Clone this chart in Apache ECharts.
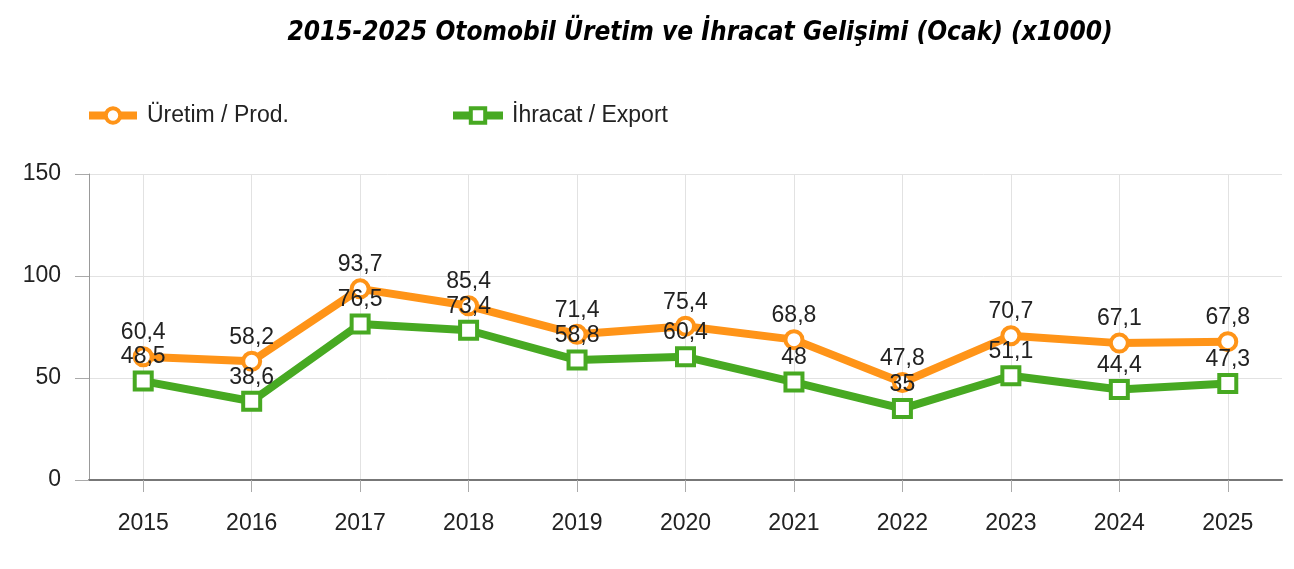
<!DOCTYPE html>
<html>
<head>
<meta charset="utf-8">
<style>html,body{margin:0;padding:0;background:#fff;}#c{width:1294px;height:569px;}</style>
<script src="https://cdn.jsdelivr.net/npm/echarts@6/dist/echarts.min.js"></script>
</head>
<body>
<div id="c"></div>
<script>
const years = ['2015','2016','2017','2018','2019','2020','2021','2022','2023','2024','2025'];
const uretim = [60.4, 58.2, 93.7, 85.4, 71.4, 75.4, 68.8, 47.8, 70.7, 67.1, 67.8];
const ihracat = [48.5, 38.6, 76.5, 73.4, 58.8, 60.4, 48, 35, 51.1, 44.4, 47.3];
const yTicks = [0, 50, 100, 150];
const titleText = '2015-2025 Otomobil Üretim ve İhracat Gelişimi (Ocak) (x1000)';
const nameU = 'Üretim / Prod.';
const nameI = 'İhracat / Export';

const ORANGE = '#FF9418';
const GREEN = '#47A922';
const FONT = '"Liberation Sans", Arial, sans-serif';
const FS = 23;
const fmt = p => String(p.value).replace('.', ',');

const chart = echarts.init(document.getElementById('c'), null, {renderer: 'canvas'});
chart.setOption({
  animation: false,
  backgroundColor: '#fff',
  title: {
    text: titleText,
    left: 695, top: 15,
    textAlign: 'center',
    textStyle: {fontFamily: '"Liberation Sans Narrow", "DejaVu Sans Condensed", sans-serif', fontStyle: 'italic', fontWeight: 'bold', fontSize: 26, color: '#000'}
  },
  legend: [
    {data: [nameU], left: 80, top: 99, itemWidth: 48, itemHeight: 18, itemGap: 10,
     lineStyle: {width: 8}, itemStyle: {borderWidth: 4},
     textStyle: {fontFamily: FONT, fontSize: FS, color: '#222', padding: [0, 0, 0, 5]}},
    {data: [nameI], left: 444, top: 99, itemWidth: 50, itemHeight: 18, itemGap: 10,
     lineStyle: {width: 8}, itemStyle: {borderWidth: 4},
     textStyle: {fontFamily: FONT, fontSize: FS, color: '#222', padding: [0, 0, 0, 4]}}
  ],
  grid: {left: 89, right: 12, top: 174, bottom: 89, containLabel: false},
  xAxis: {
    type: 'category',
    data: years,
    boundaryGap: true,
    axisLine: {show: true, lineStyle: {color: '#777', width: 2}},
    axisTick: {show: true, alignWithLabel: true, length: 12, lineStyle: {color: '#aaa'}},
    splitLine: {show: true, alignWithLabel: true, lineStyle: {color: '#e2e2e2', width: 1}},
    axisLabel: {margin: 32, fontFamily: FONT, fontSize: FS, color: '#222'}
  },
  yAxis: {
    type: 'value',
    min: yTicks[0], max: yTicks[yTicks.length - 1], interval: 50,
    axisLine: {show: true, lineStyle: {color: '#999', width: 1}},
    axisTick: {show: true, length: 14, lineStyle: {color: '#aaa'}},
    splitLine: {show: true, lineStyle: {color: '#e2e2e2', width: 1}},
    axisLabel: {margin: 28, fontFamily: FONT, fontSize: FS, color: '#222'}
  },
  series: [
    {
      name: nameU, type: 'line', data: uretim,
      symbol: 'circle', symbolSize: 17,
      lineStyle: {color: ORANGE, width: 8},
      itemStyle: {color: '#fff', borderColor: ORANGE, borderWidth: 4},
      label: {show: true, position: 'top', distance: 2, formatter: fmt, fontFamily: FONT, fontSize: FS, color: '#222'},
      z: 2
    },
    {
      name: nameI, type: 'line', data: ihracat,
      symbol: 'rect', symbolSize: 17,
      lineStyle: {color: GREEN, width: 8},
      itemStyle: {color: '#fff', borderColor: GREEN, borderWidth: 4},
      label: {show: true, position: 'top', distance: 2, formatter: fmt, fontFamily: FONT, fontSize: FS, color: '#222'},
      z: 3
    }
  ]
});
</script>
</body>
</html>
